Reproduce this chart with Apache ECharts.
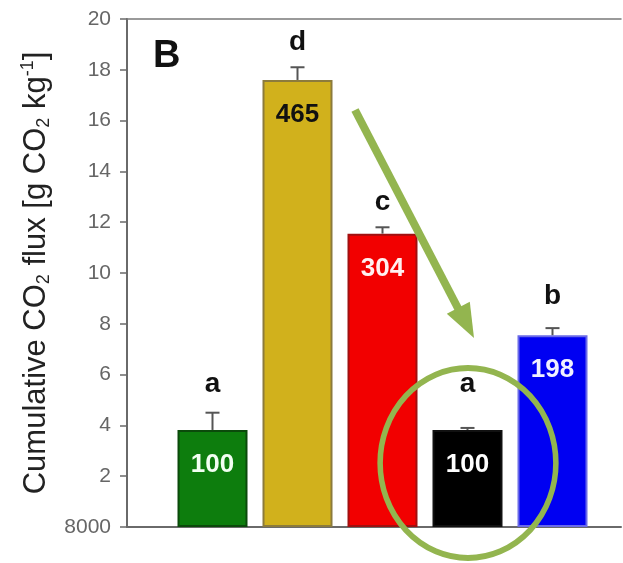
<!DOCTYPE html>
<html><head><meta charset="utf-8">
<script src="https://cdn.jsdelivr.net/npm/echarts@6/dist/echarts.min.js"></script>
<style>html,body{margin:0;padding:0;background:#fff}#c{width:623px;height:563px}</style>
</head><body><div id="c"></div>
<script>
const categories = ['T1', 'T2', 'T3', 'T4', 'T5'];
const means = [3.82, 17.6, 11.55, 3.82, 7.55];
const errTop = [4.5, 18.1, 11.8, 3.9, 7.83];
const relLabels = ['100', '465', '304', '100', '198'];
const letters = ['a', 'd', 'c', 'a', 'b'];
const letterY = [5.6, 19.1, 12.8, 5.6, 9.1];
const yTickLabels = ['8000', '2', '4', '6', '8', '10', '12', '14', '16', '18', '20'];
const barColors = ['#0d7d0d', '#d1b11c', '#f20000', '#000000', '#0000f2'];
const barBorders = ['#0b4a0b', '#8c7b3c', '#a01010', '#111111', '#6a6ae8'];
const labelColors = ['#f2fff2', '#111111', '#fff0f0', '#ffffff', '#f0f0ff'];

const FONT = "'Liberation Sans', Arial, sans-serif";
const GREEN = '#93b54f';

const chart = echarts.init(document.getElementById('c'), null, {renderer: 'canvas'});

const barData = means.map((v, i) => ({
  value: v,
  itemStyle: {color: barColors[i], borderColor: barBorders[i], borderWidth: 2},
  label: {color: labelColors[i]}
}));

chart.setOption({
  animation: false,
  backgroundColor: '#fff',
  grid: [
    {left: 170, right: 28, top: 19, bottom: 36},
    {left: 127, right: 2, top: 19, bottom: 36}
  ],
  xAxis: [
    {type: 'category', data: categories, gridIndex: 0,
     axisLine: {show: false}, axisTick: {show: false}, axisLabel: {show: false}},
    {type: 'value', gridIndex: 1, position: 'bottom', min: 0, max: 1,
     axisLine: {show: true, lineStyle: {color: '#6a6a6a', width: 2}},
     axisTick: {show: false}, axisLabel: {show: false}, splitLine: {show: false}},
    {type: 'value', gridIndex: 1, position: 'top', min: 0, max: 1,
     axisLine: {show: true, lineStyle: {color: '#7a7a7a', width: 1.5}},
     axisTick: {show: false}, axisLabel: {show: false}, splitLine: {show: false}}
  ],
  yAxis: [
    {type: 'value', gridIndex: 0, min: 0, max: 20, interval: 2, offset: 43,
     name: '{a|Cumulative CO}{s|2}{a| flux [g CO}{s|2}{a| kg}{p|-1}{a|]}',
     nameLocation: 'middle', nameGap: 74,
     nameTextStyle: {
       rich: {
         a: {fontFamily: FONT, fontSize: 31, color: '#222'},
         s: {fontFamily: FONT, fontSize: 18, color: '#222', verticalAlign: 'bottom', padding: [16, 0, 0, 0]},
         p: {fontFamily: FONT, fontSize: 18, color: '#222', verticalAlign: 'top', padding: [0, 0, 16, 0]}
       }
     },
     axisLine: {show: true, lineStyle: {color: '#6a6a6a', width: 2}},
     axisTick: {show: true, inside: false, length: 7, lineStyle: {color: '#6a6a6a', width: 1.5}},
     axisLabel: {fontFamily: FONT, fontSize: 21, color: '#666', margin: 16,
       formatter: (v) => yTickLabels[Math.round(v / 2)]},
     splitLine: {show: false}},
    {type: 'value', gridIndex: 1, min: 0, max: 1, show: false}
  ],
  series: [
    {type: 'bar', xAxisIndex: 0, yAxisIndex: 0, data: barData, barWidth: 70,
     label: {show: true, position: 'insideTop', distance: 22,
       fontFamily: FONT, fontSize: 26, fontWeight: 'bold',
       formatter: (p) => relLabels[p.dataIndex]}},
    {type: 'custom', xAxisIndex: 0, yAxisIndex: 0, z: 5,
     data: means.map((m, i) => [i, m, errTop[i]]),
     renderItem: (params, api) => {
       const base = api.coord([api.value(0), api.value(1)]);
       const top = api.coord([api.value(0), api.value(2)]);
       const st = {stroke: '#555', lineWidth: 2};
       return {type: 'group', children: [
         {type: 'line', shape: {x1: base[0], y1: base[1], x2: top[0], y2: top[1]}, style: st},
         {type: 'line', shape: {x1: top[0] - 7, y1: top[1], x2: top[0] + 7, y2: top[1]}, style: st}
       ]};
     }},
    {type: 'custom', xAxisIndex: 0, yAxisIndex: 0, z: 6,
     data: letterY.map((y, i) => [i, y]),
     renderItem: (params, api) => {
       const p = api.coord([api.value(0), api.value(1)]);
       return {type: 'text', x: p[0], y: p[1], style: {
         text: letters[params.dataIndex], fontFamily: FONT, fontSize: 28, fontWeight: 'bold',
         fill: '#111', align: 'center', verticalAlign: 'middle'}};
     }}
  ],
  graphic: [
    {type: 'text', left: 153, top: 38, style: {text: 'B', fontFamily: FONT, fontSize: 38, fontWeight: 'bold', fill: '#111'}},
    {type: 'line', z: 100, shape: {x1: 355, y1: 110, x2: 462, y2: 316}, style: {stroke: GREEN, lineWidth: 8}},
    {type: 'polygon', z: 100, shape: {points: [[474, 338], [446.8, 313.8], [469.8, 301.8]]}, style: {fill: GREEN}},
    {type: 'circle', z: 100, x: 468, y: 463, scaleX: 0.925, shape: {cx: 0, cy: 0, r: 95},
     style: {fill: 'none', stroke: GREEN, lineWidth: 6, strokeNoScale: true}}
  ]
});
</script>
</body></html>
